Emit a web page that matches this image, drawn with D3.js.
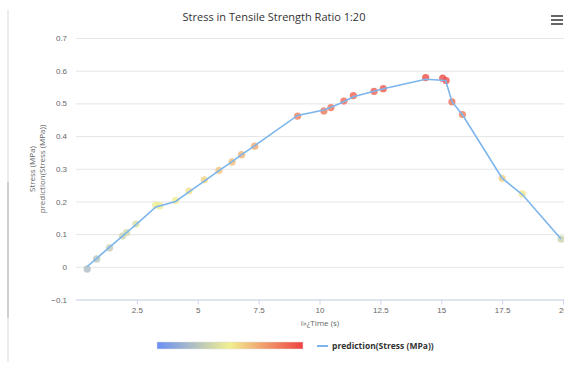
<!DOCTYPE html>
<html>
<head>
<meta charset="utf-8">
<script src="https://cdn.jsdelivr.net/npm/d3@7"></script>
<style>
  body { margin: 0; background: #fff; }
  svg { display: block; font-family: "Open Sans", "DejaVu Sans", sans-serif; }
</style>
</head>
<body>
<svg id="chart"></svg>
<script>
// measured points: time (s) and stress (MPa)
var times = [0.46, 0.85, 1.38, 1.91, 2.08, 2.46, 3.28, 3.45, 4.09, 4.64, 5.27, 5.87, 6.41, 6.80, 7.34,
             9.10, 10.18, 10.47, 11.0, 11.39, 12.24, 12.62, 14.36, 15.06, 15.2, 15.44, 15.87, 17.5, 18.33, 19.92];
var stress = [-0.007, 0.024, 0.058, 0.094, 0.105, 0.131, 0.189, 0.187, 0.203, 0.232, 0.266, 0.295, 0.321, 0.343, 0.369,
              0.461, 0.477, 0.487, 0.507, 0.524, 0.537, 0.545, 0.579, 0.577, 0.570, 0.505, 0.466, 0.271, 0.223, 0.085];
// prediction line
var predTimes = [0.46, 0.85, 1.38, 1.91, 2.08, 2.46, 3.28, 4.09, 4.64, 5.27, 5.87, 6.41, 6.80, 7.34,
                 9.10, 10.18, 10.47, 11.0, 11.39, 12.24, 12.62, 14.36, 15.18, 15.44, 15.87, 17.5, 18.33, 19.92];
var prediction = [0.001, 0.026, 0.060, 0.094, 0.105, 0.129, 0.183, 0.200, 0.229, 0.262, 0.294, 0.322, 0.343, 0.371,
                  0.463, 0.480, 0.488, 0.505, 0.520, 0.537, 0.545, 0.574, 0.570, 0.505, 0.465, 0.271, 0.221, 0.085];
var xTicks = [2.5, 5, 7.5, 10, 12.5, 15, 17.5, 20];
var yTicks = [-0.1, 0, 0.1, 0.2, 0.3, 0.4, 0.5, 0.6, 0.7];
var colorTicks = [-0.2, 0, 0.2, 0.4, 0.6];

var width = 564, height = 369;
var svg = d3.select("#chart").attr("width", width).attr("height", height);

var x = d3.scaleLinear().domain([0, 20]).range([76, 563]);
var y = d3.scaleLinear().domain([-0.1, 0.7]).range([299.5, 38]);
var color = d3.scaleLinear().domain([-0.2, 0.2, 0.6])
    .range(["#6a8ff5", "#f2ef90", "#ef4242"]).interpolate(d3.interpolateRgb);

// page border on the left
svg.append("rect").attr("x", 7).attr("y", 10).attr("width", 2).attr("height", 352).attr("fill", "#ececec");
svg.append("rect").attr("x", 7).attr("y", 182).attr("width", 2).attr("height", 136).attr("fill", "#cfcfcf");

// title
svg.append("text")
    .attr("x", 274).attr("y", 21)
    .attr("text-anchor", "middle")
    .attr("font-size", 11)
    .attr("fill", "#333")
    .text("Stress in Tensile Strength Ratio 1:20");

// menu icon
[0, 4, 8].forEach(function (o) {
    svg.append("rect").attr("x", 551).attr("y", 15 + o).attr("width", 12).attr("height", 2).attr("fill", "#666");
});

// grid + y axis
var gy = svg.append("g")
    .attr("transform", "translate(76,0)")
    .call(d3.axisRight(y).tickValues(yTicks).tickSize(width - 76).tickFormat(d3.format("")));
gy.select(".domain").remove();
gy.selectAll(".tick line").attr("stroke", "#e6e6e6");
gy.selectAll(".tick text")
    .attr("x", -9).attr("dy", "0.32em")
    .attr("text-anchor", "end")
    .attr("font-size", 8).attr("fill", "#666");

// x axis
var gx = svg.append("g")
    .attr("transform", "translate(0," + y(-0.1) + ")")
    .call(d3.axisBottom(x).tickValues(xTicks).tickSize(5).tickFormat(d3.format("")));
gx.select(".domain").attr("stroke", "#ccd6eb").attr("d", "M76,0.5H564");
gx.selectAll(".tick line").attr("stroke", "#ccd6eb");
gx.selectAll(".tick text").attr("y", 8).attr("font-size", 8).attr("fill", "#666");

// axis titles
svg.append("text")
    .attr("x", 320).attr("y", 326)
    .attr("text-anchor", "middle")
    .attr("font-size", 8).attr("fill", "#666")
    .text("\u00ef\u00bb\u00bfTime (s)");

var yt = svg.append("text")
    .attr("transform", "translate(35,169) rotate(-90)")
    .attr("text-anchor", "middle")
    .attr("font-size", 8).attr("fill", "#666");
yt.append("tspan").attr("x", 0).attr("dy", 0).text("Stress (MPa)");
yt.append("tspan").attr("x", 0).attr("dy", 10).text("prediction(Stress (MPa))");

// scatter
var pts = times.map(function (t, i) { return {t: t, v: stress[i]}; });
svg.append("g").selectAll("circle")
    .data(pts)
    .enter().append("circle")
    .attr("cx", function (d) { return x(d.t); })
    .attr("cy", function (d) { return y(d.v); })
    .attr("r", 3.6)
    .attr("fill", function (d) { return color(d.v); })
    .attr("fill-opacity", 0.8);

// prediction line
var line = d3.line()
    .x(function (d, i) { return x(predTimes[i]); })
    .y(function (d) { return y(d); });
svg.append("path")
    .datum(prediction)
    .attr("fill", "none")
    .attr("stroke", "#7cb5ec")
    .attr("stroke-width", 1.6)
    .attr("d", line);

// legend: colour axis
var defs = svg.append("defs");
var grad = defs.append("linearGradient").attr("id", "cgrad");
color.domain().forEach(function (v, i) {
    grad.append("stop").attr("offset", (i / 2 * 100) + "%").attr("stop-color", color(v));
});
var cx = d3.scaleLinear().domain([-0.2, 0.6]).range([157, 303]);
svg.append("rect")
    .attr("x", cx(-0.2)).attr("y", 342)
    .attr("width", cx(0.6) - cx(-0.2)).attr("height", 7)
    .attr("fill", "url(#cgrad)")
    .attr("stroke", "#e0e0e0").attr("stroke-width", 0.5);
defs.append("clipPath").attr("id", "lclip")
    .append("rect").attr("x", 0).attr("y", 350).attr("width", width).attr("height", 8);
svg.append("g").attr("clip-path", "url(#lclip)")
    .selectAll("text")
    .data(colorTicks)
    .enter().append("text")
    .attr("x", function (d) { return cx(d); })
    .attr("y", 364)
    .attr("text-anchor", function (d, i) { return i === 0 ? "start" : (i === colorTicks.length - 1 ? "end" : "middle"); })
    .attr("font-size", 8).attr("fill", "#666")
    .text(function (d) { return d; });

// legend: line series
svg.append("line")
    .attr("x1", 317).attr("x2", 328).attr("y1", 346).attr("y2", 346)
    .attr("stroke", "#7cb5ec").attr("stroke-width", 2);
svg.append("text")
    .attr("x", 332).attr("y", 349)
    .attr("font-size", 8.5).attr("font-weight", "bold").attr("fill", "#333")
    .text("prediction(Stress (MPa))");
</script>
</body>
</html>
